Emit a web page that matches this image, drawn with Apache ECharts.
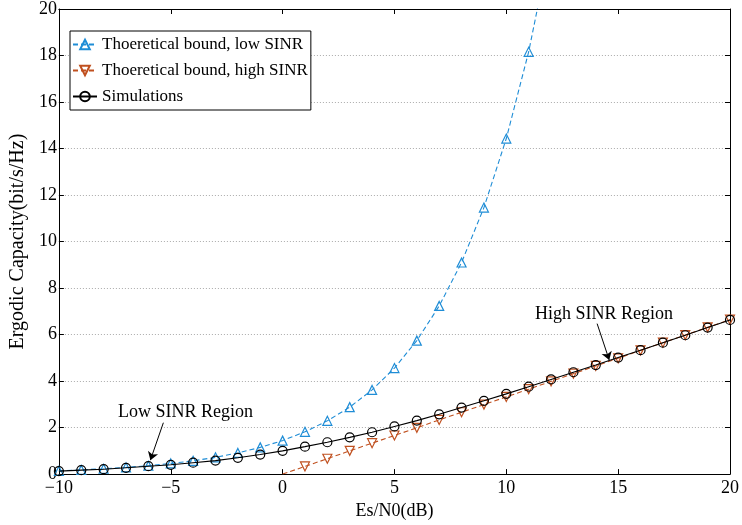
<!DOCTYPE html>
<html>
<head>
<meta charset="utf-8">
<script src="https://cdn.jsdelivr.net/npm/echarts@6/dist/echarts.min.js"></script>
<style>
  html, body { margin: 0; padding: 0; background: #fff; }
  #chart { width: 742px; height: 525px; }
</style>
</head>
<body>
<div id="chart"></div>
<script>
// Es/N0 in dB
const snrLow = [-10, -9, -8, -7, -6, -5, -4, -3, -2, -1, 0, 1, 2, 3, 4, 5, 6, 7, 8, 9, 10, 11, 12];
const lowSinrBound = [0.14, 0.18, 0.23, 0.29, 0.36, 0.46, 0.57, 0.72, 0.91, 1.15, 1.44, 1.82, 2.29, 2.88, 3.62, 4.56, 5.74, 7.23, 9.10, 11.46, 14.43, 18.16, 22.9];

const snrHigh = [0, 1, 2, 3, 4, 5, 6, 7, 8, 9, 10, 11, 12, 13, 14, 15, 16, 17, 18, 19, 20];
const highSinrBound = [0, 0.33, 0.66, 1.00, 1.33, 1.66, 1.99, 2.33, 2.66, 2.99, 3.32, 3.65, 3.99, 4.32, 4.65, 4.98, 5.32, 5.65, 5.98, 6.31, 6.64];

const snrSim = [-10, -9, -8, -7, -6, -5, -4, -3, -2, -1, 0, 1, 2, 3, 4, 5, 6, 7, 8, 9, 10, 11, 12, 13, 14, 15, 16, 17, 18, 19, 20];
const simulations = [0.13, 0.17, 0.21, 0.27, 0.34, 0.40, 0.49, 0.58, 0.70, 0.84, 1.00, 1.18, 1.37, 1.58, 1.80, 2.05, 2.30, 2.57, 2.86, 3.15, 3.45, 3.76, 4.07, 4.38, 4.69, 5.01, 5.33, 5.65, 5.97, 6.30, 6.63];

const seriesNames = ['Thoeretical bound, low SINR', 'Thoeretical bound, high SINR', 'Simulations'];
const xTicks = { min: -10, max: 20, step: 5 };
const yTicks = { min: 0, max: 20, step: 2 };

const font = '"Liberation Serif", "Times New Roman", serif';
const blue = '#1f8dd6';
const brown = '#c0501f';

const pairs = (xs, ys) => xs.map((x, i) => [x, ys[i]]);

const chart = echarts.init(document.getElementById('chart'), null, { renderer: 'canvas' });

const xBase = {
  type: 'value', min: xTicks.min, max: xTicks.max, interval: xTicks.step,
  axisLine: { show: true, onZero: false, lineStyle: { color: '#000', width: 1 } },
  axisTick: { show: true, inside: true, length: 5, lineStyle: { color: '#000' } },
  splitLine: { show: false }
};
const yBase = {
  type: 'value', min: yTicks.min, max: yTicks.max, interval: yTicks.step,
  axisLine: { show: true, onZero: false, lineStyle: { color: '#000', width: 1 } },
  axisTick: { show: true, inside: true, length: 5, lineStyle: { color: '#000' } }
};

// hollow markers: transparent fill, coloured outline
const hollow = c => ({ color: 'transparent', borderColor: c, borderWidth: 1.2 });

chart.setOption({
  animation: false,
  backgroundColor: '#fff',
  textStyle: { fontFamily: font, color: '#000' },
  grid: { left: 49, right: 6, top: 7, bottom: 48 },
  legend: {
    data: seriesNames,
    orient: 'vertical',
    left: 70, top: 31,
    backgroundColor: '#fff',
    borderColor: '#000', borderWidth: 1, borderRadius: 0,
    padding: [5, 3, 5, 2],
    itemGap: 9, itemWidth: 24, itemHeight: 12,
    textStyle: { fontFamily: font, fontSize: 17, color: '#000' }
  },
  xAxis: [
    Object.assign({}, xBase, {
      position: 'bottom',
      name: 'Es/N0(dB)', nameLocation: 'middle', nameGap: 23,
      nameTextStyle: { fontFamily: font, fontSize: 18, color: '#000' },
      axisLabel: {
        fontFamily: font, fontSize: 18, color: '#000', margin: 5,
        formatter: v => String(v).replace('-', '\u2212')
      }
    }),
    Object.assign({}, xBase, { position: 'top', axisLabel: { show: false } })
  ],
  yAxis: [
    Object.assign({}, yBase, {
      position: 'left',
      name: 'Ergodic Capacity(bit/s/Hz)', nameLocation: 'middle', nameGap: 26,
      nameTextStyle: { fontFamily: font, fontSize: 20, color: '#000' },
      axisLabel: { fontFamily: font, fontSize: 18, color: '#000', margin: 2 },
      splitLine: { show: true, lineStyle: { color: '#aaa', type: [1, 2], width: 1 } }
    }),
    Object.assign({}, yBase, { position: 'right', axisLabel: { show: false }, splitLine: { show: false } })
  ],
  series: [
    {
      name: seriesNames[0], type: 'line', xAxisIndex: 0, yAxisIndex: 0,
      data: pairs(snrLow, lowSinrBound),
      symbol: 'triangle', symbolSize: 9,
      lineStyle: { color: blue, width: 1.1, type: [5, 3] },
      itemStyle: hollow(blue),
      clip: true, z: 2
    },
    {
      name: seriesNames[1], type: 'line', xAxisIndex: 0, yAxisIndex: 0,
      data: pairs(snrHigh, highSinrBound).map((p, i) => i === 0 ? { value: p, symbol: 'none' } : p),
      symbol: 'triangle', symbolRotate: 180, symbolSize: 9,
      lineStyle: { color: brown, width: 1.1, type: [5, 3] },
      itemStyle: hollow(brown),
      clip: true, z: 3
    },
    {
      name: seriesNames[2], type: 'line', xAxisIndex: 0, yAxisIndex: 0,
      data: pairs(snrSim, simulations),
      symbol: 'circle', symbolSize: 9,
      lineStyle: { color: '#000', width: 1.1 },
      itemStyle: hollow('#000'),
      clip: true, z: 4
    },
    {
      // region annotations: arrows and captions in data coordinates
      name: 'regions', type: 'line', xAxisIndex: 0, yAxisIndex: 0,
      data: [], itemStyle: { color: '#000' }, z: 5,
      markLine: {
        silent: true, animation: false,
        symbol: ['none', 'arrow'], symbolSize: 8,
        lineStyle: { color: '#000', width: 1, type: 'solid' },
        itemStyle: { color: '#000' },
        label: { show: false },
        data: [
          [{ coord: [-5.33, 2.21] }, { coord: [-5.91, 0.60] }],
          [{ coord: [14.06, 6.47] }, { coord: [14.60, 4.91] }]
        ]
      },
      markPoint: {
        silent: true, animation: false,
        symbol: 'circle', symbolSize: 0,
        label: {
          show: true, position: 'inside', color: '#000',
          fontFamily: font, fontSize: 18,
          formatter: p => p.name
        },
        data: [
          { name: 'Low SINR Region', coord: [-4.34, 2.68] },
          { name: 'High SINR Region', coord: [14.37, 6.89] }
        ]
      }
    }
  ]
});
</script>
</body>
</html>
